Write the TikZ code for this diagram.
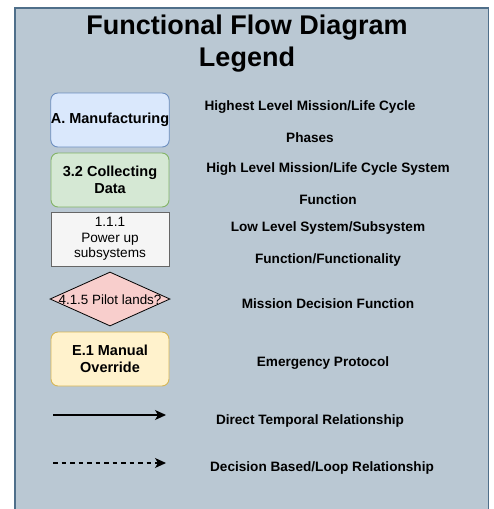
\documentclass[tikz,border=0pt]{standalone}
\usepackage{fontspec}
\setmainfont{Liberation Sans}
\usetikzlibrary{shapes.geometric,arrows.meta}
\definecolor{panelfill}{HTML}{BAC8D3}
\definecolor{panelline}{HTML}{4F6F8A}
\definecolor{bluefill}{HTML}{DAE8FC}
\definecolor{blueline}{HTML}{6C8EBF}
\definecolor{greenfill}{HTML}{D5E8D4}
\definecolor{greenline}{HTML}{82B366}
\definecolor{greyfill}{HTML}{F5F5F5}
\definecolor{greyline}{HTML}{666666}
\definecolor{redfill}{HTML}{F8CECC}
\definecolor{yellowfill}{HTML}{FFF2CC}
\definecolor{yellowline}{HTML}{D6B656}
\tikzset{
  legendbox/.style={draw, line width=0.9pt, minimum width=118pt, minimum height=54pt,
    inner sep=0pt, align=center, text=black},
  roundbox/.style={legendbox, rounded corners=7pt, font=\bfseries\fontsize{14.5}{17}\selectfont},
  plainbox/.style={legendbox, font=\fontsize{13.6}{15.5}\selectfont},
  desc/.style={align=center, font=\bfseries\fontsize{13.6}{32}\selectfont},
  flowtip/.style={-{Stealth[length=11pt,width=10pt,inset=3pt]}, line width=1.2pt},
}
\begin{document}
\begin{tikzpicture}[x=1pt,y=-1pt]
\useasboundingbox (0,0) rectangle (494,509);
% panel
\fill[white] (0,0) rectangle (494,509);
\filldraw[fill=panelfill, draw=panelline, line width=1.5pt] (15,515) -- (15,8) -- (488.5,8) -- (488.5,515);
% title
\node[align=center, font=\bfseries\fontsize{27}{32}\selectfont] (title) at (247,44) {Functional Flow Diagram\\Legend};
% legend symbols
\node[roundbox, fill=bluefill, draw=blueline] (phase) at (110,120) {A. Manufacturing};
\node[roundbox, fill=greenfill, draw=greenline] (sysfn) at (110,180) {3.2 Collecting\\Data};
\node[plainbox, fill=greyfill, draw=greyline] (subfn) at (110,239) {1.1.1\\Power up\\subsystems};
\node[diamond, draw=black, fill=redfill, line width=0.8pt, minimum width=120pt, minimum height=54pt,
  inner sep=0pt, aspect=2.2] (decide) at (110,299) {};
\node[font=\fontsize{13.4}{14}\selectfont] (decidetext) at (110,300) {4.1.5 Pilot lands?};
\node[roundbox, fill=yellowfill, draw=yellowline] (emerg) at (110,359) {E.1 Manual\\Override};
% arrow samples
\coordinate (solidA) at (53,415);
\coordinate (solidB) at (166,415);
\coordinate (dashA) at (53,463);
\coordinate (dashB) at (166,463);
\draw[flowtip] (solidA) -- (solidB);
\draw[flowtip, dash pattern=on 4.5pt off 4pt] (dashA) -- (dashB);
% descriptions
\node[desc] (phasedesc) at (310,122) {Highest Level Mission/Life Cycle\\Phases};
\node[desc] (sysdesc) at (328,184) {High Level Mission/Life Cycle System\\Function};
\node[desc] (subdesc) at (328,244) {Low Level System/Subsystem\\Function/Functionality};
\node[desc] (decdesc) at (328,304) {Mission Decision Function};
\node[desc] (emdesc) at (323,363) {Emergency Protocol};
\node[desc] (directdesc) at (310,421) {Direct Temporal Relationship};
\node[desc] (loopdesc) at (322,468) {Decision Based/Loop Relationship};
\end{tikzpicture}
\end{document}
